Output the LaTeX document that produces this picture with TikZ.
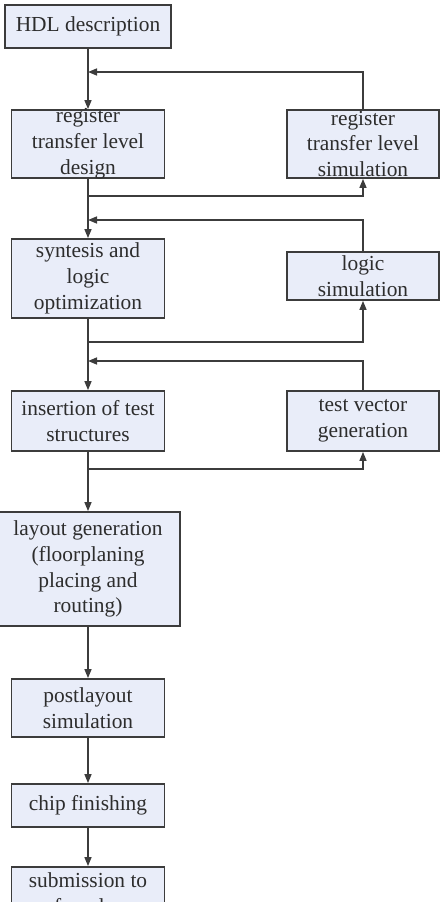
\documentclass[tikz,border=0pt]{standalone}
\usepackage{fontspec}
\setmainfont{Liberation Serif}
\usetikzlibrary{arrows.meta}
\definecolor{boxfill}{RGB}{233,237,249}
\definecolor{boxline}{RGB}{60,60,60}
\definecolor{txt}{RGB}{45,45,45}
\newcommand\bxt[3]{\parbox[c][#2][c]{#1}{\centering #3}}
\newcommand\bxtop[3]{\parbox[c][#2][t]{#1}{\vspace*{6pt}\centering #3}}
\begin{document}
\begin{tikzpicture}[x=1pt,y=-1pt,
  stage/.style={draw=boxline,line width=1.8pt,fill=boxfill,inner sep=0pt,text=txt,
    font=\fontsize{21.4}{25.8}\selectfont},
  link/.style={draw=boxline,line width=1.5pt,-{Triangle[length=9pt,width=7pt]}},
  wire/.style={draw=boxline,line width=1.5pt}]
\useasboundingbox (0,0) rectangle (445,902);
\node[stage] (hdl)  at (88,26.5)  {\bxt{166pt}{43pt}{HDL description}};
\node[stage] (rtld) at (88,144)   {\bxt{153pt}{68pt}{register\\transfer level\\design}};
\node[stage] (rtls) at (363,144)  {\bxt{152pt}{68pt}{register\\transfer level\\simulation}};
\node[stage] (syn)  at (88,278.5) {\bxt{153pt}{79pt}{syntesis and\\logic\\optimization}};
\node[stage] (logs) at (363,276)  {\bxt{152pt}{48pt}{logic\\simulation}};
\node[stage] (ins)  at (88,421)   {\bxt{153pt}{60pt}{insertion of test\\structures}};
\node[stage] (tvg)  at (363,421)  {\bxt{152pt}{60pt}{test vector\\generation}};
\node[stage] (lay)  at (88,569)   {\bxt{184pt}{114pt}{layout generation\\(floorplaning\\placing and\\routing)}};
\node[stage] (post) at (88,708)   {\bxt{153pt}{58pt}{postlayout\\simulation}};
\node[stage] (chip) at (88,805.5) {\bxt{153pt}{43pt}{chip finishing}};
\node[stage] (sub)  at (88,919)   {\bxtop{153pt}{104pt}{submission to\\foundry}};
\coordinate (fb1) at (88,72);
\coordinate (br1) at (88,196);
\coordinate (fb2) at (88,220);
\coordinate (br2) at (88,342);
\coordinate (fb3) at (88,361);
\coordinate (br3) at (88,469);
\draw[link] (hdl.south) -- (rtld.north);
\draw[link] (rtls.north) |- (fb1);
\draw[link] (rtld.south) -- (syn.north);
\draw[link] (br1) -| (rtls.south);
\draw[link] (logs.north) |- (fb2);
\draw[link] (syn.south) -- (ins.north);
\draw[link] (br2) -| (logs.south);
\draw[link] (tvg.north) |- (fb3);
\draw[link] (ins.south) -- (lay.north);
\draw[link] (br3) -| (tvg.south);
\draw[link] (lay.south) -- (post.north);
\draw[link] (post.south) -- (chip.north);
\draw[link] (chip.south) -- (sub.north);
\end{tikzpicture}
\end{document}
